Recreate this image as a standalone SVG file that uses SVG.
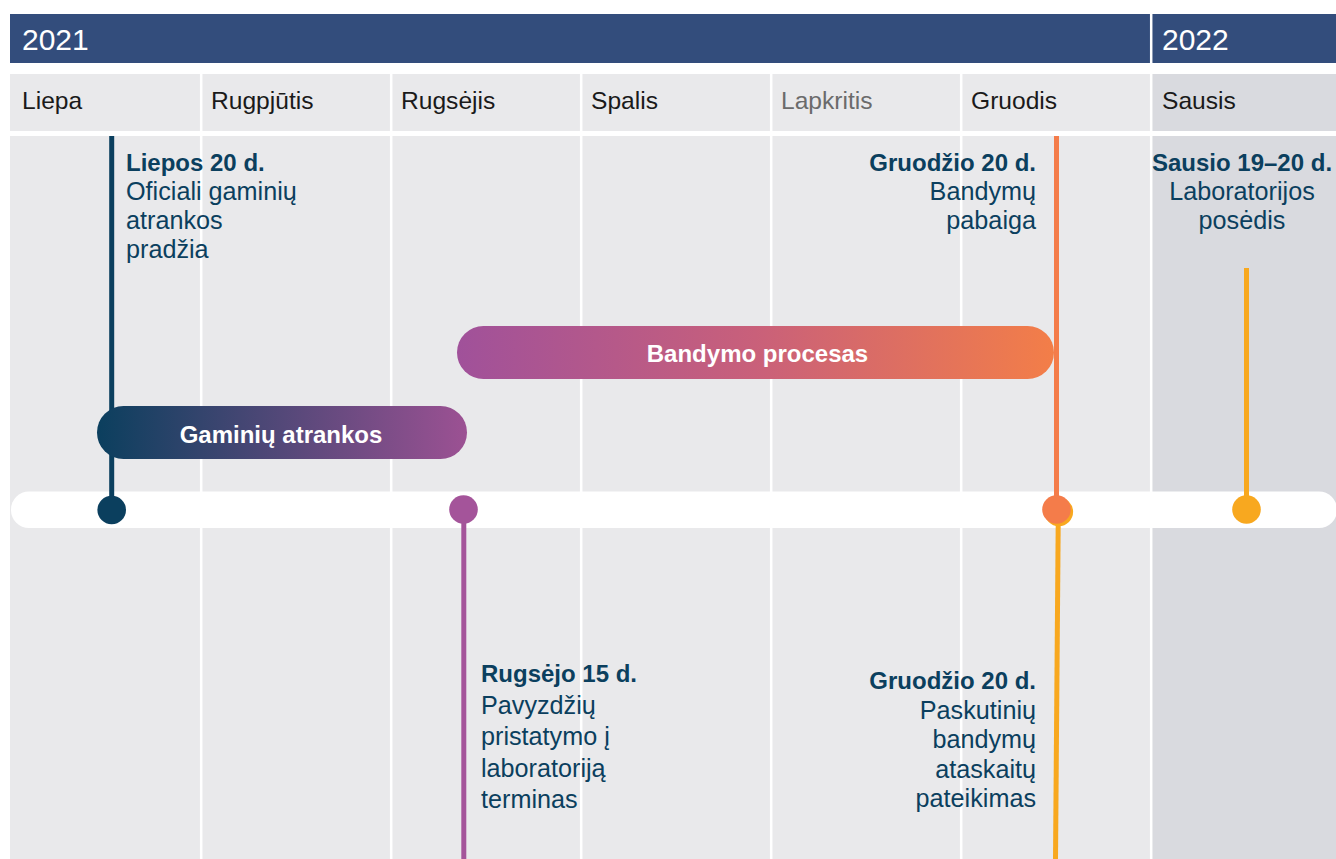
<svg xmlns="http://www.w3.org/2000/svg" width="1336" height="859" viewBox="0 0 1336 859">
<defs>
<style>
.yr{font-family:"Liberation Sans",Arial,sans-serif;font-size:30px;fill:#ffffff}
.mo{font-family:"Liberation Sans",Arial,sans-serif;font-size:24.6px;fill:#1a1a1a}
.mo.dim{fill:#6b6b6b}
.hd{font-family:"Liberation Sans",Arial,sans-serif;font-size:24px;font-weight:bold;fill:#0b3f5e}
.tx{font-family:"Liberation Sans",Arial,sans-serif;font-size:25.2px;fill:#0b3f5e}
.pl{font-family:"Liberation Sans",Arial,sans-serif;font-size:24px;font-weight:bold;fill:#ffffff;text-anchor:middle}
.div{stroke:#ffffff;stroke-width:2.5}
.cn{fill:none;stroke-width:5}
</style>
<linearGradient id="g1" x1="0" y1="0" x2="1" y2="0">
<stop offset="0" stop-color="#0b3f5e"/>
<stop offset="1" stop-color="#9c5193"/>
</linearGradient>
<linearGradient id="g2" x1="0" y1="0" x2="1" y2="0">
<stop offset="0" stop-color="#a0519a"/>
<stop offset="0.5" stop-color="#c9607a"/>
<stop offset="1" stop-color="#f37e48"/>
</linearGradient>
</defs>
<rect width="1336" height="859" fill="#ffffff"/>
<g id="background">
<rect x="10" y="14" width="1326" height="49" fill="#334d7c"/>
<line class="div" x1="1151.2" y1="14" x2="1151.2" y2="63"/>
<text class="yr" x="22" y="50">2021</text>
<text class="yr" x="1162" y="50">2022</text>
<rect x="10" y="74" width="1142" height="57" fill="#e9e9eb"/>
<rect x="1152" y="74" width="184" height="57" fill="#d9dadf"/>
<rect x="10" y="136" width="1142" height="723" fill="#e9e9eb"/>
<rect x="1152" y="136" width="184" height="723" fill="#d9dadf"/>
<g>
<line class="div" x1="201.2" y1="74" x2="201.2" y2="859"/>
<line class="div" x1="391.2" y1="74" x2="391.2" y2="859"/>
<line class="div" x1="581.2" y1="74" x2="581.2" y2="859"/>
<line class="div" x1="771.2" y1="74" x2="771.2" y2="859"/>
<line class="div" x1="961.2" y1="74" x2="961.2" y2="859"/>
<line class="div" x1="1151.2" y1="74" x2="1151.2" y2="859"/>
</g>
<text class="mo" x="22" y="109">Liepa</text>
<text class="mo" x="211" y="109">Rugpjūtis</text>
<text class="mo" x="401" y="109">Rugsėjis</text>
<text class="mo" x="591" y="109">Spalis</text>
<text class="mo dim" x="781" y="109">Lapkritis</text>
<text class="mo" x="971" y="109">Gruodis</text>
<text class="mo" x="1162" y="109">Sausis</text>
<rect id="timeline" x="11" y="491.5" width="1326" height="36.5" rx="18" fill="#ffffff"/>
</g>
<g id="connectors">
<line class="cn" stroke="#0b3f5e" x1="111.7" y1="136" x2="111.7" y2="510"/>
<line class="cn" stroke="#a4549a" x1="463.8" y1="510" x2="463.8" y2="859"/>
<line class="cn" stroke="#f47c4a" x1="1056.5" y1="136" x2="1056.5" y2="510"/>
<line class="cn" stroke="#f8a81f" x1="1058.3" y1="511" x2="1055.5" y2="859"/>
<line class="cn" stroke="#f8a81f" x1="1246.5" y1="268" x2="1246.5" y2="510"/>
</g>
<g id="pill-gaminiu">
<rect x="97" y="406" width="370" height="53" rx="26.5" fill="url(#g1)"/>
<text class="pl" x="281" y="443">Gaminių atrankos</text>
</g>
<g id="pill-bandymo">
<rect x="457" y="326" width="597" height="53" rx="26.5" fill="url(#g2)"/>
<text class="pl" x="757.5" y="362">Bandymo procesas</text>
</g>
<g id="m-liepos">
<circle cx="111.7" cy="510" r="14.3" fill="#0b3f5e"/>
<text class="hd" x="126" y="171">Liepos 20 d.</text>
<text class="tx" x="126" y="200">Oficiali gaminių</text>
<text class="tx" x="126" y="229">atrankos</text>
<text class="tx" x="126" y="258">pradžia</text>
</g>
<g id="m-rugsejo">
<circle cx="463.5" cy="509.5" r="14.3" fill="#a4549a"/>
<text class="hd" x="481" y="682">Rugsėjo 15 d.</text>
<text class="tx" x="481" y="713.5">Pavyzdžių</text>
<text class="tx" x="481" y="745">pristatymo į</text>
<text class="tx" x="481" y="776.5">laboratoriją</text>
<text class="tx" x="481" y="808">terminas</text>
</g>
<g id="m-gruodzio-pabaiga">
<circle cx="1058.8" cy="511.8" r="14.3" fill="#f8a81f"/>
<circle cx="1056.5" cy="509.5" r="14.3" fill="#f47c4a"/>
<g text-anchor="end">
<text class="hd" x="1036" y="171">Gruodžio 20 d.</text>
<text class="tx" x="1036" y="200">Bandymų</text>
<text class="tx" x="1036" y="229">pabaiga</text>
</g>
</g>
<g id="m-gruodzio-ataskaitos" text-anchor="end">
<text class="hd" x="1036" y="689">Gruodžio 20 d.</text>
<text class="tx" x="1036" y="719">Paskutinių</text>
<text class="tx" x="1036" y="748">bandymų</text>
<text class="tx" x="1036" y="778">ataskaitų</text>
<text class="tx" x="1036" y="807">pateikimas</text>
</g>
<g id="m-sausio" text-anchor="middle">
<circle cx="1246.5" cy="509.5" r="14.3" fill="#f8a81f"/>
<text class="hd" x="1242" y="171">Sausio 19–20 d.</text>
<text class="tx" x="1242" y="200">Laboratorijos</text>
<text class="tx" x="1242" y="229">posėdis</text>
</g>
</svg>
